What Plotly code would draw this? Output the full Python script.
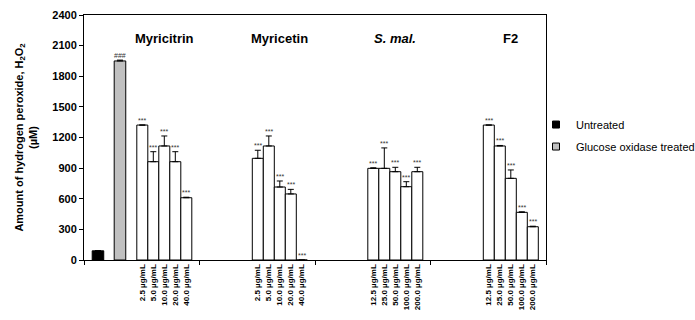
import plotly.graph_objects as go

# ---------------- data ----------------
groups = ["Myricitrin", "Myricetin", "<i>S. mal.</i>", "F2"]
conc_labels = [
    ["2.5 µg/mL", "5.0 µg/mL", "10.0 µg/mL", "20.0 µg/mL", "40.0 µg/mL"],
    ["2.5 µg/mL", "5.0 µg/mL", "10.0 µg/mL", "20.0 µg/mL", "40.0 µg/mL"],
    ["12.5 µg/mL", "25.0 µg/mL", "50.0 µg/mL", "100.0 µg/mL", "200.0 µg/mL"],
    ["12.5 µg/mL", "25.0 µg/mL", "50.0 µg/mL", "100.0 µg/mL", "200.0 µg/mL"],
]
myricitrin_vals = [1322, 963, 1117, 963, 610]
myricitrin_err = [0, 98, 98, 98, 5]
myricetin_vals = [996, 1117, 715, 647, 0]
myricetin_err = [79, 98, 59, 45, 0]
smal_vals = [898, 898, 865, 718, 865]
smal_err = [5, 200, 43, 49, 43]
f2_vals = [1322, 1117, 800, 467, 326]
f2_err = [0, 5, 82, 5, 5]
untreated_val = 90
untreated_err = 0
glucose_val = 1950
glucose_err = 8

y_ticks = [0, 300, 600, 900, 1200, 1500, 1800, 2100, 2400]

group_vals = [myricitrin_vals, myricetin_vals, smal_vals, f2_vals]
group_err = [myricitrin_err, myricetin_err, smal_err, f2_err]

# ---------------- layout helpers (slot units) ----------------
GROUP_W = 10.5
CONC_START = 5.3
UNTREATED_POS = 1.27
GLUCOSE_POS = 3.27

fig = go.Figure()

# control bars
fig.add_trace(go.Bar(
    x=[UNTREATED_POS], y=[untreated_val], width=1.05,
    marker=dict(color="black", line=dict(color="black", width=1)),
    error_y=dict(type="data", array=[untreated_err], arrayminus=[0], symmetric=False,
                 color="black", thickness=1, width=3),
    showlegend=False, hoverinfo="y"))
fig.add_trace(go.Bar(
    x=[GLUCOSE_POS], y=[glucose_val], width=1.05,
    marker=dict(color="#c0c0c0", line=dict(color="black", width=1)),
    error_y=dict(type="data", array=[glucose_err], arrayminus=[0], symmetric=False,
                 color="black", thickness=1, width=3),
    showlegend=False, hoverinfo="y"))

tickvals, ticktext = [], []
annotations = []
for g in range(len(groups)):
    xs = [g * GROUP_W + CONC_START + k for k in range(5)]
    fig.add_trace(go.Bar(
        x=xs, y=group_vals[g], width=1.0,
        marker=dict(color="white", line=dict(color="black", width=1)),
        error_y=dict(type="data", array=group_err[g], arrayminus=[0] * 5, symmetric=False,
                     color="black", thickness=1, width=3),
        showlegend=False, hoverinfo="y"))
    tickvals += xs
    ticktext += ["<b>" + t + "</b>" for t in conc_labels[g]]
    for x, v, e in zip(xs, group_vals[g], group_err[g]):
        annotations.append(dict(x=x, y=v + e, text="***", showarrow=False,
                                yanchor="bottom", yshift=-1,
                                font=dict(size=7, color="#333333", family="Arial")))
    annotations.append(dict(x=g * GROUP_W + CONC_START + 2, y=0.905, yref="paper",
                            yanchor="middle", xanchor="center",
                            text="<b>" + groups[g] + "</b>", showarrow=False,
                            font=dict(size=13, color="black", family="Arial")))

annotations.append(dict(x=GLUCOSE_POS, y=glucose_val + glucose_err, text="###", showarrow=False,
                        yanchor="bottom", yshift=-1,
                        font=dict(size=7, color="#333333", family="Arial")))

# legend-only traces
fig.add_trace(go.Scatter(x=[None], y=[None], mode="markers", name="Untreated",
                         legendgroup="u",
                         marker=dict(symbol="square", size=7, color="black",
                                     line=dict(color="black", width=1))))
fig.add_trace(go.Scatter(x=[None], y=[None], mode="markers", name="Glucose oxidase treated",
                         legendgroup="g",
                         marker=dict(symbol="square", size=7, color="#c0c0c0",
                                     line=dict(color="black", width=1))))

fig.update_layout(
    width=695, height=320,
    margin=dict(l=84, r=149, t=15, b=60, autoexpand=False),
    paper_bgcolor="white", plot_bgcolor="white",
    font=dict(family="Arial", color="black"),
    barmode="overlay",
    annotations=annotations,
    legend=dict(x=(536 - 84) / 462, xanchor="left",
                y=0.508, yanchor="middle",
                font=dict(size=11, family="Arial", color="black"),
                traceorder="grouped", tracegroupgap=3,
                itemwidth=30, bgcolor="rgba(0,0,0,0)"),
    xaxis=dict(range=[0, 4 * GROUP_W], showgrid=False, zeroline=False, automargin=False,
               showline=True, linecolor="black", linewidth=1, mirror=True,
               tickmode="array", tickvals=tickvals, ticktext=ticktext,
               tickangle=-90, ticks="", ticklen=0,
               tickfont=dict(size=8, family="Arial", color="black"),
               minor=dict(tickmode="array",
                          tickvals=[0, GROUP_W, 2 * GROUP_W, 3 * GROUP_W, 4 * GROUP_W],
                          ticks="outside", ticklen=4, tickcolor="black", showgrid=False)),
    yaxis=dict(range=[0, 2400], tickvals=y_ticks, showgrid=False, zeroline=False, automargin=False,
               showline=True, linecolor="black", linewidth=1, mirror=True,
               ticks="outside", ticklen=4, tickcolor="black",
               tickfont=dict(size=11, family="Arial", color="black"),
               ticktext=["<b>%d</b>" % v for v in y_ticks], tickmode="array",
               title=dict(text="<b>Amount of hydrogen peroxide, H<sub>2</sub>O<sub>2</sub><br>(µM)</b>",
                          font=dict(size=11, family="Arial", color="black"), standoff=12)),
)

fig.write_html("out.html", config={"displayModeBar": False},
               post_script="document.body.style.margin='0';")
